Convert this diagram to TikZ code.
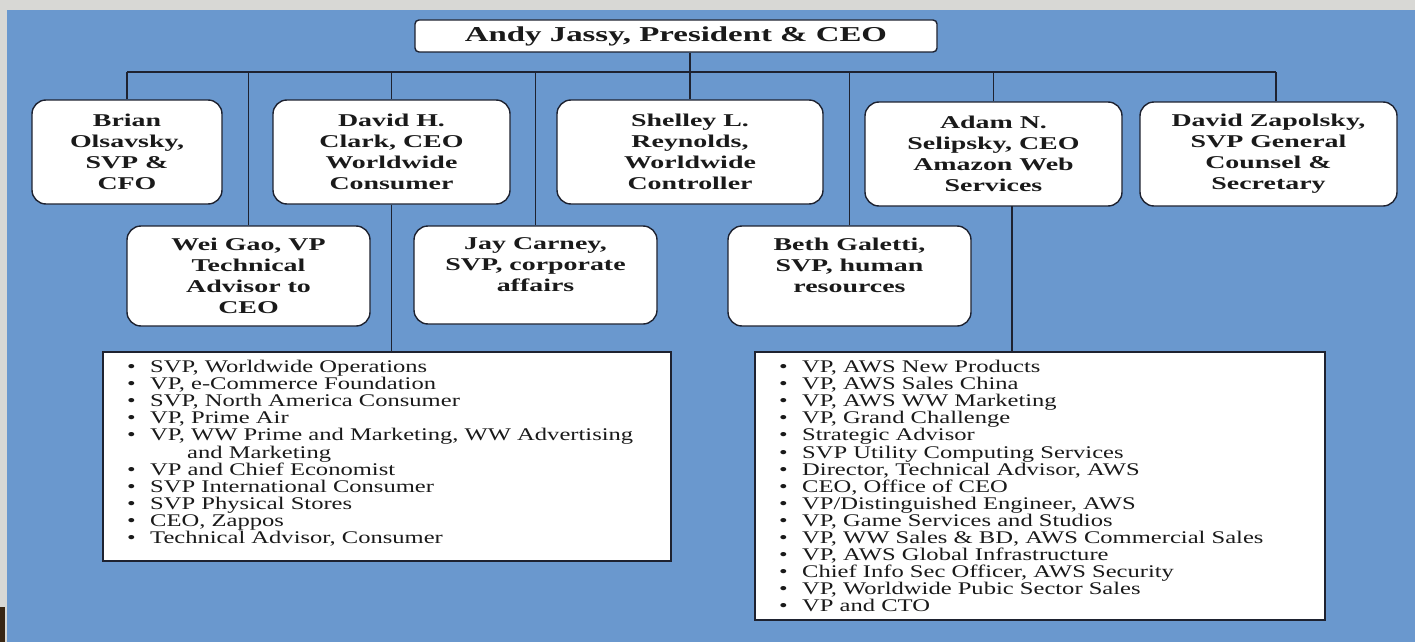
\documentclass[tikz,border=0pt]{standalone}
\usepackage{fontspec}
\setmainfont{Liberation Serif}[FakeStretch=1.55]
\newfontfamily\listfont{Liberation Serif}[FakeStretch=1.38]
\definecolor{bgblue}{HTML}{6A98CE}
\definecolor{framegrey}{HTML}{D8D8D5}
\definecolor{linec}{HTML}{1E2230}
\definecolor{textc}{HTML}{1A1A1A}
\newcommand{\bl}{\makebox[23pt][l]{•}}
\begin{document}
\begin{tikzpicture}[x=1pt,y=-1pt,
  bx/.style={draw=linec, line width=1.4pt, fill=white, rounded corners=14pt,
    align=center, inner sep=0pt, text=textc,
    font=\fontsize{18}{21}\selectfont\bfseries},
  lstbox/.style={draw=linec, line width=1.4pt, fill=white, inner sep=0pt},
  lsttext/.style={align=left, inner sep=0pt, anchor=north west, text=textc,
    font=\listfont\fontsize{17.8}{17.1}\selectfont},
  conn/.style={draw=linec, line width=1.4pt}]
\useasboundingbox (0,0) rectangle (1415,642);
\fill[framegrey] (0,0) rectangle (1415,642);
\fill[bgblue] (7,10) rectangle (1415,642);
\fill[black!70!brown] (0,607) rectangle (5,642);

\coordinate (busL) at (127,72);
\coordinate (busR) at (1276,72);

% top
\node[bx, rounded corners=4pt, minimum width=522pt, minimum height=32pt,
  font=\fontsize{21.2}{24}\selectfont\bfseries] (andy) at (676,36) {Andy Jassy, President \& CEO};

% first row
\node[bx, minimum width=190pt, minimum height=104pt] (brian) at (127,152)
  {Brian\\Olsavsky,\\SVP \&\\CFO};
\node[bx, minimum width=237pt, minimum height=104pt] (clark) at (391.5,152)
  {David H.\\Clark, CEO\\Worldwide\\Consumer};
\node[bx, minimum width=266pt, minimum height=104pt] (shelley) at (690,152)
  {Shelley L.\\Reynolds,\\Worldwide\\Controller};
\node[bx, minimum width=257pt, minimum height=104pt] (adam) at (993.5,154)
  {Adam N.\\Selipsky, CEO\\Amazon Web\\Services};
\node[bx, minimum width=257pt, minimum height=104pt] (zap) at (1268.5,154)
  {David Zapolsky,\\SVP General\\Counsel \&\\Secretary};

% second row
\node[bx, minimum width=243pt, minimum height=100pt] (wei) at (248.5,276)
  {Wei Gao, VP\\Technical\\Advisor to\\CEO};
\node[bx, minimum width=243pt, minimum height=98pt] (jay) at (535.5,275)
  {Jay Carney,\\SVP, corporate\\affairs\\\mbox{}};
\node[bx, minimum width=243pt, minimum height=100pt] (beth) at (849.5,276)
  {Beth Galetti,\\SVP, human\\resources\\\mbox{}};

% list boxes
\node[lstbox, minimum width=568pt, minimum height=209pt] (llist) at (387,456.5) {};
\node[lstbox, minimum width=570pt, minimum height=268pt] (rlist) at (1040,486) {};

\node[lsttext] (ltext) at (127,360) {%
\bl SVP, Worldwide Operations\\
\bl VP, e-Commerce Foundation\\
\bl SVP, North America Consumer\\
\bl VP, Prime Air\\
\bl VP, WW Prime and Marketing, WW Advertising\\
\hspace*{60pt}and Marketing\\
\bl VP and Chief Economist\\
\bl SVP International Consumer\\
\bl SVP Physical Stores\\
\bl CEO, Zappos\\
\bl Technical Advisor, Consumer};

\node[lsttext] (rtext) at (779,360) {%
\bl VP, AWS New Products\\
\bl VP, AWS Sales China\\
\bl VP, AWS WW Marketing\\
\bl VP, Grand Challenge\\
\bl Strategic Advisor\\
\bl SVP Utility Computing Services\\
\bl Director, Technical Advisor, AWS\\
\bl CEO, Office of CEO\\
\bl VP/Distinguished Engineer, AWS\\
\bl VP, Game Services and Studios\\
\bl VP, WW Sales \& BD, AWS Commercial Sales\\
\bl VP, AWS Global Infrastructure\\
\bl Chief Info Sec Officer, AWS Security\\
\bl VP, Worldwide Pubic Sector Sales\\
\bl VP and CTO};

% connectors
\draw[conn] (busL) -- (busR);
\draw[conn] (andy.south -| shelley.north) -- (shelley.north);
\draw[conn] (brian.north) -- (brian.north |- busL);
\draw[conn] (clark.north) -- (clark.north |- busL);
\draw[conn] (adam.north) -- (adam.north |- busL);
\draw[conn] (zap.north -| busR) -- (busR);
\draw[conn] (wei.north) -- (wei.north |- busL);
\draw[conn] (jay.north) -- (jay.north |- busL);
\draw[conn] (beth.north) -- (beth.north |- busL);
\draw[conn] (clark.south) -- (clark.south |- llist.north);
\coordinate (adamdown) at (1012,206);
\draw[conn] (adamdown) -- (adamdown |- rlist.north);
\end{tikzpicture}
\end{document}
